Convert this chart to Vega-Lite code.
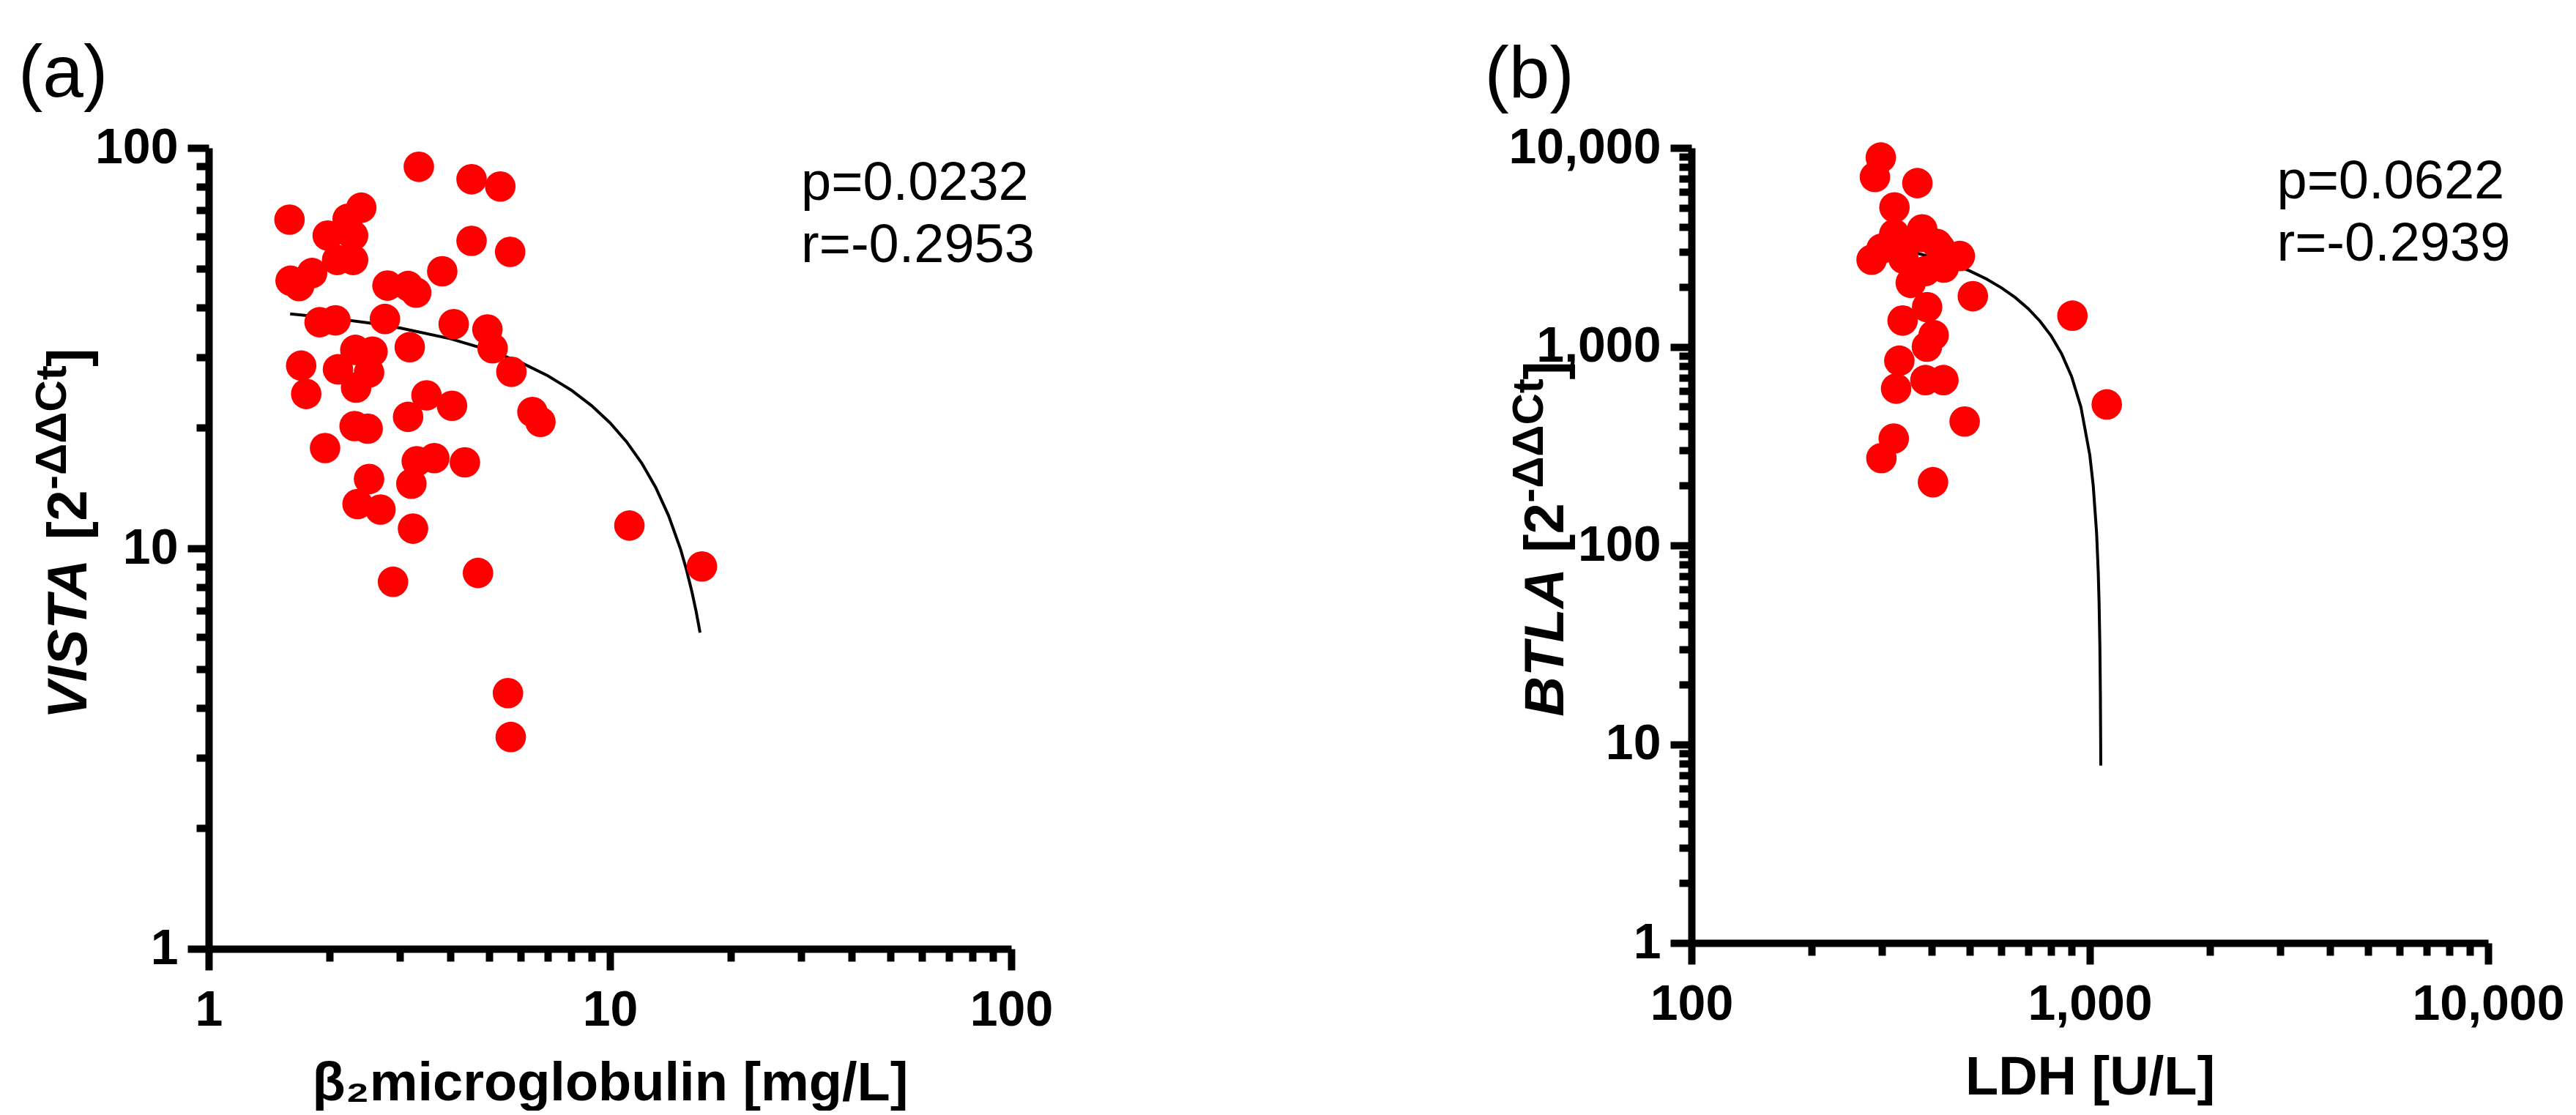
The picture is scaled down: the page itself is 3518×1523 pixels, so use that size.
{
  "$schema": "https://vega.github.io/schema/vega-lite/v6.json",
  "background": "white",
  "padding": {"left": 25, "top": 51, "right": 0, "bottom": 0},
  "config": {
    "font": "Liberation Sans",
    "view": {"stroke": null},
    "axis": {
      "grid": false,
      "domainColor": "black",
      "domainWidth": 10,
      "domainCap": "butt",
      "tickColor": "black",
      "tickWidth": 10,
      "tickCap": "butt",
      "labelFont": "Liberation Sans",
      "labelFontWeight": "bold",
      "labelFontSize": 68,
      "labelColor": "black",
      "labelOverlap": false,
      "labelFlush": false,
      "labelBound": false,
      "labelLimit": 1000,
      "titleFont": "Liberation Sans",
      "titleFontWeight": "bold",
      "titleFontSize": 74,
      "titleColor": "black",
      "titleLimit": 2000
    }
  },
  "spacing": 929,
  "bounds": "flush",
  "hconcat": [
    {
      "width": 1096,
      "height": 1094,
      "layer": [
        {
          "data": {"values": [
            {"x": 1.596, "y": 38.5}, {"x": 2, "y": 37.64}, {"x": 2.5, "y": 36.57}, {"x": 3, "y": 35.51},
            {"x": 4, "y": 33.38}, {"x": 5, "y": 31.25}, {"x": 6, "y": 29.11}, {"x": 7, "y": 26.98},
            {"x": 8, "y": 24.85}, {"x": 9, "y": 22.72}, {"x": 10, "y": 20.59}, {"x": 11, "y": 18.46},
            {"x": 12, "y": 16.33}, {"x": 13, "y": 14.2}, {"x": 14, "y": 12.07}, {"x": 15, "y": 9.94},
            {"x": 15.5, "y": 8.87}, {"x": 16, "y": 7.8}, {"x": 16.4, "y": 6.95}, {"x": 16.77, "y": 6.16}
          ]},
          "mark": {"type": "line", "color": "black", "strokeWidth": 4},
          "encoding": {
            "x": {
              "field": "x", "type": "quantitative",
              "scale": {"type": "log", "domain": [1, 100]},
              "axis": {
                "values": [1, 2, 3, 4, 5, 6, 7, 8, 9, 10, 20, 30, 40, 50, 60, 70, 80, 90, 100],
                "labelExpr": "indexof([1, 10, 100], datum.value) >= 0 ? datum.label : ''",
                "tickSize": {"expr": "indexof([1, 10, 100], datum.value) >= 0 ? 29 : 17"},
                "labelPadding": 21,
                "title": "β₂microglobulin [mg/L]",
                "titlePadding": 30
              }
            },
            "y": {
              "field": "y", "type": "quantitative",
              "scale": {"type": "log", "domain": [1, 100]},
              "axis": {
                "values": [1, 2, 3, 4, 5, 6, 7, 8, 9, 10, 20, 30, 40, 50, 60, 70, 80, 90, 100],
                "labelExpr": "indexof([1, 10, 100], datum.value) >= 0 ? datum.label : ''",
                "tickSize": {"expr": "indexof([1, 10, 100], datum.value) >= 0 ? 29 : 17"},
                "labelPadding": 13,
                "title": null
              }
            }
          }
        },
        {
          "data": {"values": [
            {"b2m": 3.34, "vista": 89.7}, {"b2m": 4.52, "vista": 83.5}, {"b2m": 5.33, "vista": 80.1},
            {"b2m": 1.59, "vista": 66.2}, {"b2m": 2.4, "vista": 70.9}, {"b2m": 2.22, "vista": 66.5},
            {"b2m": 1.98, "vista": 60.4}, {"b2m": 2.29, "vista": 60.4}, {"b2m": 2.09, "vista": 52.5},
            {"b2m": 2.29, "vista": 52.5}, {"b2m": 4.52, "vista": 58.6}, {"b2m": 5.64, "vista": 55.0},
            {"b2m": 1.6, "vista": 46.6}, {"b2m": 1.68, "vista": 45.2}, {"b2m": 1.81, "vista": 48.7},
            {"b2m": 3.82, "vista": 49.2}, {"b2m": 2.79, "vista": 45.3}, {"b2m": 3.14, "vista": 45.2},
            {"b2m": 3.29, "vista": 43.5}, {"b2m": 1.89, "vista": 36.7}, {"b2m": 2.07, "vista": 37.1},
            {"b2m": 2.75, "vista": 37.4}, {"b2m": 4.08, "vista": 36.3}, {"b2m": 4.95, "vista": 35.2},
            {"b2m": 5.1, "vista": 31.6}, {"b2m": 5.68, "vista": 27.6}, {"b2m": 1.7, "vista": 28.6},
            {"b2m": 1.75, "vista": 24.3}, {"b2m": 2.32, "vista": 31.3}, {"b2m": 2.56, "vista": 31.0},
            {"b2m": 2.1, "vista": 28.0}, {"b2m": 2.51, "vista": 27.5}, {"b2m": 2.33, "vista": 25.2},
            {"b2m": 3.17, "vista": 31.8}, {"b2m": 3.49, "vista": 24.1}, {"b2m": 3.14, "vista": 21.3},
            {"b2m": 4.04, "vista": 22.7}, {"b2m": 6.41, "vista": 21.9}, {"b2m": 6.71, "vista": 20.7},
            {"b2m": 2.31, "vista": 20.2}, {"b2m": 2.49, "vista": 19.9}, {"b2m": 1.95, "vista": 17.8},
            {"b2m": 3.3, "vista": 16.5}, {"b2m": 3.65, "vista": 16.8}, {"b2m": 4.35, "vista": 16.4},
            {"b2m": 2.51, "vista": 14.9}, {"b2m": 3.2, "vista": 14.5}, {"b2m": 2.35, "vista": 12.9},
            {"b2m": 2.68, "vista": 12.5}, {"b2m": 3.23, "vista": 11.2}, {"b2m": 11.18, "vista": 11.4},
            {"b2m": 16.95, "vista": 9.01}, {"b2m": 2.88, "vista": 8.25}, {"b2m": 4.69, "vista": 8.68},
            {"b2m": 5.57, "vista": 4.35}, {"b2m": 5.66, "vista": 3.38}
          ]},
          "mark": {"type": "circle", "color": "#ff0000", "opacity": 1, "size": 1735},
          "encoding": {
            "x": {"field": "b2m", "type": "quantitative"},
            "y": {"field": "vista", "type": "quantitative"}
          }
        },
        {
          "data": {"values": [{}]},
          "mark": {"type": "text", "text": ["p=0.0232", "r=-0.2953"], "fontSize": 74, "align": "left", "baseline": "alphabetic", "lineHeight": 85, "color": "black"},
          "encoding": {"x": {"datum": 29.95, "type": "quantitative"}, "y": {"datum": 74.2, "type": "quantitative"}}
        },
        {
          "data": {"values": [{}]},
          "mark": {"type": "text", "text": "(a)", "fontSize": 100, "align": "left", "baseline": "alphabetic", "color": "black"},
          "encoding": {"x": {"datum": 0.3354, "type": "quantitative"}, "y": {"datum": 134.3, "type": "quantitative"}}
        },
        {
          "data": {"values": [{}]},
          "mark": {"type": "text", "text": "VISTA", "fontSize": 76, "fontWeight": "bold", "fontStyle": "italic", "angle": 270, "align": "left", "baseline": "alphabetic", "color": "black"},
          "encoding": {"x": {"datum": 0.4958, "type": "quantitative"}, "y": {"datum": 3.75, "type": "quantitative"}}
        },
        {
          "data": {"values": [{}]},
          "mark": {"type": "text", "text": "[2", "fontSize": 76, "fontWeight": "bold", "angle": 270, "align": "left", "baseline": "alphabetic", "color": "black"},
          "encoding": {"x": {"datum": 0.4958, "type": "quantitative"}, "y": {"datum": 10.51, "type": "quantitative"}}
        },
        {
          "data": {"values": [{}]},
          "mark": {"type": "text", "text": "-ΔΔCt", "fontSize": 60, "fontWeight": "bold", "angle": 270, "align": "left", "baseline": "alphabetic", "color": "black"},
          "encoding": {"x": {"datum": 0.4405, "type": "quantitative"}, "y": {"datum": 14.01, "type": "quantitative"}}
        },
        {
          "data": {"values": [{}]},
          "mark": {"type": "text", "text": "]", "fontSize": 76, "fontWeight": "bold", "angle": 270, "align": "left", "baseline": "alphabetic", "color": "black"},
          "encoding": {"x": {"datum": 0.4958, "type": "quantitative"}, "y": {"datum": 28.4, "type": "quantitative"}}
        }
      ]
    },
    {
      "width": 1088,
      "height": 1086,
      "layer": [
        {
          "data": {"values": [
            {"x": 285, "y": 3312}, {"x": 300, "y": 3248}, {"x": 350, "y": 3036}, {"x": 400, "y": 2825},
            {"x": 450, "y": 2613}, {"x": 500, "y": 2402}, {"x": 550, "y": 2190}, {"x": 600, "y": 1978},
            {"x": 650, "y": 1767}, {"x": 700, "y": 1555}, {"x": 750, "y": 1343}, {"x": 800, "y": 1132},
            {"x": 850, "y": 920}, {"x": 900, "y": 708}, {"x": 950, "y": 497}, {"x": 1000, "y": 285},
            {"x": 1020, "y": 200}, {"x": 1040, "y": 116}, {"x": 1050, "y": 73.4}, {"x": 1055, "y": 52.2},
            {"x": 1060, "y": 31.0}, {"x": 1063, "y": 18.3}, {"x": 1065, "y": 9.9}, {"x": 1065.5, "y": 7.8}
          ]},
          "mark": {"type": "line", "color": "black", "strokeWidth": 4},
          "encoding": {
            "x": {
              "field": "x", "type": "quantitative",
              "scale": {"type": "log", "domain": [100, 10000]},
              "axis": {
                "values": [100, 200, 300, 400, 500, 600, 700, 800, 900, 1000, 2000, 3000, 4000, 5000, 6000, 7000, 8000, 9000, 10000],
                "format": ",",
                "labelExpr": "indexof([100, 1000, 10000], datum.value) >= 0 ? datum.label : ''",
                "tickSize": {"expr": "indexof([100, 1000, 10000], datum.value) >= 0 ? 29 : 17"},
                "labelPadding": 21,
                "title": "LDH [U/L]",
                "titlePadding": 30
              }
            },
            "y": {
              "field": "y", "type": "quantitative",
              "scale": {"type": "log", "domain": [1, 10000]},
              "axis": {
                "values": [1, 2, 3, 4, 5, 6, 7, 8, 9, 10, 20, 30, 40, 50, 60, 70, 80, 90, 100, 200, 300, 400, 500, 600, 700, 800, 900, 1000, 2000, 3000, 4000, 5000, 6000, 7000, 8000, 9000, 10000],
                "format": ",",
                "labelExpr": "indexof([1, 10, 100, 1000, 10000], datum.value) >= 0 ? datum.label : ''",
                "tickSize": {"expr": "indexof([1, 10, 100, 1000, 10000], datum.value) >= 0 ? 29 : 17"},
                "labelPadding": 13,
                "title": null
              }
            }
          }
        },
        {
          "data": {"values": [
            {"ldh": 298.8, "btla": 8941}, {"ldh": 288.8, "btla": 7136}, {"ldh": 369.1, "btla": 6649},
            {"ldh": 323.3, "btla": 5017}, {"ldh": 379.6, "btla": 3894}, {"ldh": 378.4, "btla": 3562},
            {"ldh": 413.2, "btla": 3289}, {"ldh": 420.7, "btla": 3137}, {"ldh": 283.3, "btla": 2739},
            {"ldh": 340.6, "btla": 2772}, {"ldh": 471.8, "btla": 2858}, {"ldh": 355.3, "btla": 2095},
            {"ldh": 386.6, "btla": 2400}, {"ldh": 430, "btla": 2500}, {"ldh": 508.6, "btla": 1794},
            {"ldh": 323, "btla": 3686}, {"ldh": 300, "btla": 3111}, {"ldh": 345, "btla": 3300},
            {"ldh": 338.9, "btla": 1353}, {"ldh": 390.5, "btla": 1581}, {"ldh": 405.5, "btla": 1143},
            {"ldh": 390, "btla": 1000}, {"ldh": 332.6, "btla": 850}, {"ldh": 326.4, "btla": 615},
            {"ldh": 386.6, "btla": 679}, {"ldh": 429.1, "btla": 679}, {"ldh": 485.1, "btla": 420},
            {"ldh": 322.0, "btla": 345}, {"ldh": 299.8, "btla": 275}, {"ldh": 404, "btla": 208},
            {"ldh": 904.5, "btla": 1432}, {"ldh": 1103, "btla": 512}
          ]},
          "mark": {"type": "circle", "color": "#ff0000", "opacity": 1, "size": 1735},
          "encoding": {
            "x": {"field": "ldh", "type": "quantitative"},
            "y": {"field": "btla", "type": "quantitative"}
          }
        },
        {
          "data": {"values": [{}]},
          "mark": {"type": "text", "text": ["p=0.0622", "r=-0.2939"], "fontSize": 74, "align": "left", "baseline": "alphabetic", "lineHeight": 85, "color": "black"},
          "encoding": {"x": {"datum": 2949, "type": "quantitative"}, "y": {"datum": 5585, "type": "quantitative"}}
        },
        {
          "data": {"values": [{}]},
          "mark": {"type": "text", "text": "(b)", "fontSize": 100, "align": "left", "baseline": "alphabetic", "color": "black"},
          "encoding": {"x": {"datum": 30.25, "type": "quantitative"}, "y": {"datum": 17853, "type": "quantitative"}}
        },
        {
          "data": {"values": [{}]},
          "mark": {"type": "text", "text": "BTLA", "fontSize": 76, "fontWeight": "bold", "fontStyle": "italic", "angle": 270, "align": "left", "baseline": "alphabetic", "color": "black"},
          "encoding": {"x": {"datum": 47.6, "type": "quantitative"}, "y": {"datum": 13.78, "type": "quantitative"}}
        },
        {
          "data": {"values": [{}]},
          "mark": {"type": "text", "text": "[2", "fontSize": 76, "fontWeight": "bold", "angle": 270, "align": "left", "baseline": "alphabetic", "color": "black"},
          "encoding": {"x": {"datum": 47.6, "type": "quantitative"}, "y": {"datum": 92.1, "type": "quantitative"}}
        },
        {
          "data": {"values": [{}]},
          "mark": {"type": "text", "text": "-ΔΔCt", "fontSize": 60, "fontWeight": "bold", "angle": 270, "align": "left", "baseline": "alphabetic", "color": "black"},
          "encoding": {"x": {"datum": 42.3, "type": "quantitative"}, "y": {"datum": 163.9, "type": "quantitative"}}
        },
        {
          "data": {"values": [{}]},
          "mark": {"type": "text", "text": "]", "fontSize": 76, "fontWeight": "bold", "angle": 270, "align": "left", "baseline": "alphabetic", "color": "black"},
          "encoding": {"x": {"datum": 47.6, "type": "quantitative"}, "y": {"datum": 681.6, "type": "quantitative"}}
        }
      ]
    }
  ]
}
